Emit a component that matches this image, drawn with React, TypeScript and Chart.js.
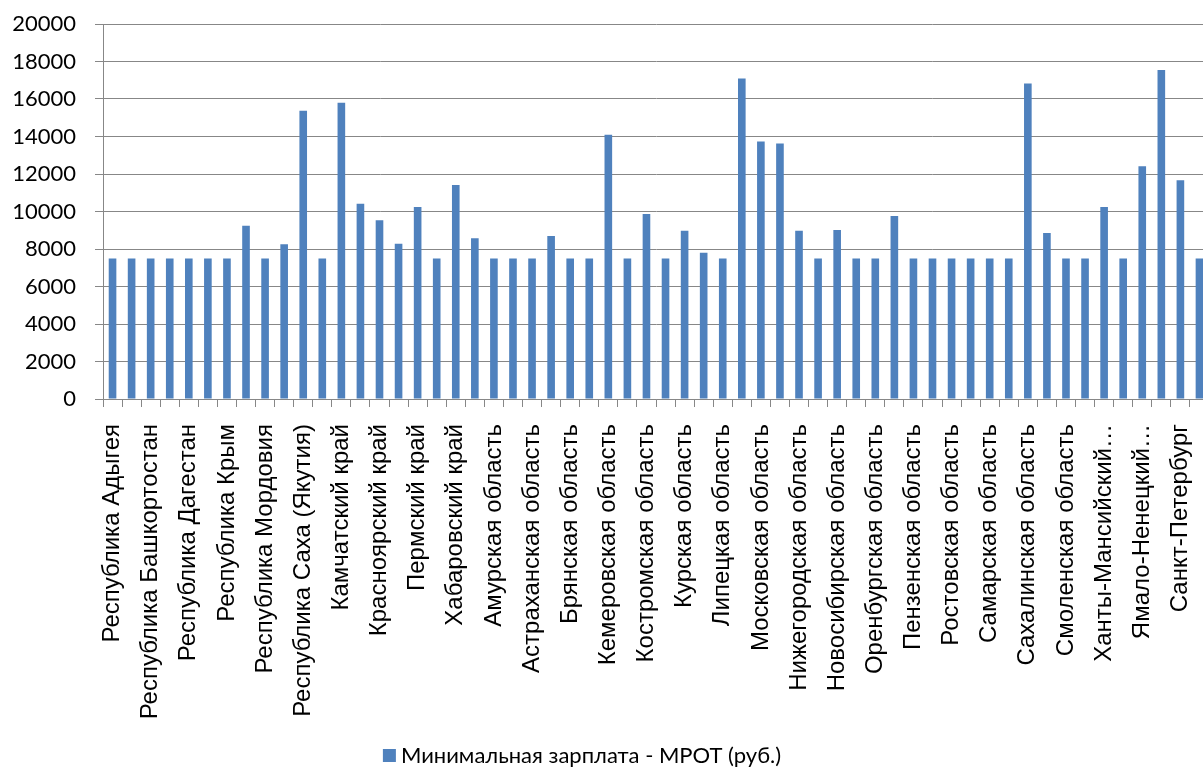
import { useEffect, useRef } from "react";
import { Chart, registerables } from "chart.js";

Chart.register(...registerables);

const categories: string[] = [
  "Республика Адыгея",
  "Республика Алтай",
  "Республика Башкортостан",
  "Республика Бурятия",
  "Республика Дагестан",
  "Республика Карелия",
  "Республика Крым",
  "Республика Коми",
  "Республика Мордовия",
  "Республика Татарстан",
  "Республика Саха (Якутия)",
  "Алтайский край",
  "Камчатский край",
  "Краснодарский край",
  "Красноярский край",
  "Приморский край",
  "Пермский край",
  "Ставропольский край",
  "Хабаровский край",
  "Архангельская область",
  "Амурская область",
  "Белгородская область",
  "Астраханская область",
  "Владимирская область",
  "Брянская область",
  "Калужская область",
  "Кемеровская область",
  "Кировская область",
  "Костромская область",
  "Курганская область",
  "Курская область",
  "Ленинградская область",
  "Липецкая область",
  "Магаданская область",
  "Московская область",
  "Мурманская область",
  "Нижегородская область",
  "Новгородская область",
  "Новосибирская область",
  "Омская область",
  "Оренбургская область",
  "Орловская область",
  "Пензенская область",
  "Псковская область",
  "Ростовская область",
  "Рязанская область",
  "Самарская область",
  "Саратовская область",
  "Сахалинская область",
  "Свердловская область",
  "Смоленская область",
  "Тверская область",
  "Ханты-Мансийский…",
  "Ульяновская область",
  "Ямало-Ненецкий…",
  "Чукотский автономный округ",
  "Санкт-Петербург",
  "Севастополь",
];

const minWage: number[] = [
  7500, 7500, 7500, 7500, 7500, 7500, 7500, 9240, 7500, 8250,
  15375, 7500, 15800, 10420, 9530, 8280, 10240, 7500, 11420, 8580,
  7500, 7500, 7500, 8690, 7500, 7500, 14100, 7500, 9870, 7500,
  8970, 7800, 7500, 17090, 13740, 13630, 8970, 7500, 9010, 7500,
  7500, 9760, 7500, 7500, 7500, 7500, 7500, 7500, 16830, 8850,
  7500, 7500, 10240, 7500, 12420, 17550, 11670, 7500,
];

const seriesName = "Минимальная зарплата - МРОТ (руб.)";
const yMin = 0;
const yMax = 20000;
const yStep = 2000;

const barColor = "#4F81BD";
const axisColor = "#878787";

const legendPlugin = {
  id: "customLegend",
  afterDraw(chart: any) {
    const ctx = chart.ctx as CanvasRenderingContext2D;
    ctx.save();
    ctx.font = "22px Lato";
    const tw = ctx.measureText(seriesName).width;
    const box = 13;
    const gap = 5;
    const total = box + gap + tw;
    const cx = 582;
    const baseline = 763;
    const x0 = cx - total / 2;
    ctx.fillStyle = barColor;
    ctx.fillRect(x0, baseline - 14, box, box);
    ctx.fillStyle = "#000";
    ctx.textAlign = "left";
    ctx.textBaseline = "alphabetic";
    ctx.fillText(seriesName, x0 + box + gap, baseline);
    ctx.restore();
  },
};

export default function App() {
  const ref = useRef<HTMLCanvasElement>(null);
  useEffect(() => {
    const chart = new Chart(ref.current!, {
      type: "bar",
      data: {
        labels: categories,
        datasets: [
          {
            label: seriesName,
            data: minWage,
            backgroundColor: barColor,
            barPercentage: 0.4,
            categoryPercentage: 1,
          },
        ],
      },
      options: {
        animation: false,
        responsive: false,
        devicePixelRatio: 1,
        layout: { padding: { left: 8, top: 24, right: 6, bottom: 48 } },
        plugins: { legend: { display: false }, tooltip: { enabled: false } },
        scales: {
          x: {
            offset: true,
            grid: {
              offset: true,
              drawOnChartArea: false,
              drawTicks: true,
              tickLength: 8,
              color: axisColor,
            },
            border: { color: axisColor },
            ticks: {
              autoSkip: false,
              maxRotation: 90,
              minRotation: 90,
              padding: 17,
              color: "#000",
              font: { family: "Liberation Sans", size: 24 },
              callback: (_v: any, i: number) => (i % 2 === 0 ? categories[i] : ""),
            },
            afterFit: (s: any) => {
              s.height = 320;
              s.paddingLeft = 0;
              s.paddingRight = 0;
            },
          },
          y: {
            min: yMin,
            max: yMax,
            ticks: {
              stepSize: yStep,
              padding: 19,
              color: "#000",
              font: { family: "Lato", size: 22 },
              callback: (v: any) => String(v),
            },
            grid: { color: axisColor, tickLength: 8 },
            border: { color: axisColor },
            afterFit: (s: any) => {
              s.width = 95;
              s.paddingTop = 0;
              s.paddingBottom = 0;
            },
          },
        },
      },
      plugins: [legendPlugin],
    });
    return () => chart.destroy();
  }, []);
  return (
    <div
      style={{
        position: "absolute",
        left: 0,
        top: 0,
        width: 1203,
        height: 767,
        overflow: "hidden",
        background: "#fff",
      }}
    >
      <canvas ref={ref} width={1215} height={767} style={{ display: "block" }} />
    </div>
  );
}
